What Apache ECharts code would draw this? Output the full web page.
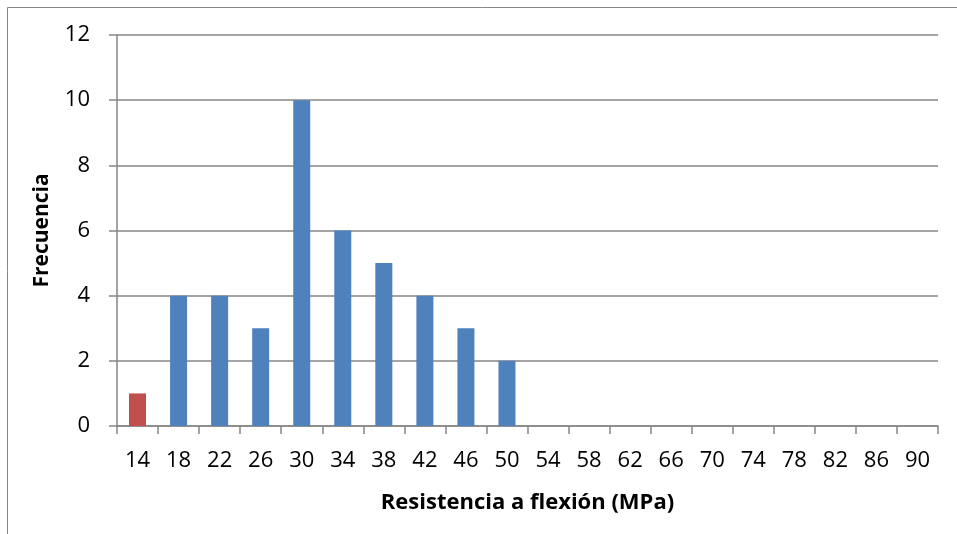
<!DOCTYPE html>
<html>
<head>
<meta charset="utf-8">
<script src="https://cdn.jsdelivr.net/npm/echarts@6/dist/echarts.min.js"></script>
<style>
  html, body { margin: 0; padding: 0; background: #fff; }
  #chart { width: 957px; height: 534px; }
</style>
</head>
<body>
<div id="chart"></div>
<script>
const chart = echarts.init(document.getElementById('chart'))

// Chart data
const categories = ['14', '18', '22', '26', '30', '34', '38', '42', '46', '50',
  '54', '58', '62', '66', '70', '74', '78', '82', '86', '90']
const frequencies = [1, 4, 4, 3, 10, 6, 5, 4, 3, 2, 0, 0, 0, 0, 0, 0, 0, 0, 0, 0]
const yTicks = [0, 2, 4, 6, 8, 10, 12]

const blue = '#4F81BD'
const red = '#C0504D'
const gray = '#868686'
const font = "'Open Sans', 'Liberation Sans', sans-serif"

const option = {
  animation: false,
  graphic: [
    {
      type: 'rect',
      shape: { x: 7.5, y: 7.5, width: 960, height: 540 },
      style: { fill: 'none', stroke: gray, lineWidth: 1 },
    },
  ],
  grid: { left: 117, right: 19, top: 35, bottom: 108 },
  xAxis: {
    type: 'category',
    data: categories,
    name: 'Resistencia a flexión (MPa)',
    nameLocation: 'middle',
    nameGap: 66,
    nameTextStyle: { fontFamily: font, fontWeight: 'bold', fontSize: 22, color: '#000' },
    axisLine: { lineStyle: { color: gray, width: 1.5 } },
    axisTick: { show: true, length: 8, lineStyle: { color: gray, width: 1.5 } },
    axisLabel: { fontFamily: font, fontSize: 22, color: '#000', margin: 24 },
  },
  yAxis: {
    type: 'value',
    min: yTicks[0],
    max: yTicks[yTicks.length - 1],
    interval: 2,
    name: 'Frecuencia',
    nameLocation: 'middle',
    nameGap: 64,
    nameTextStyle: { fontFamily: font, fontWeight: 'bold', fontSize: 21, color: '#000' },
    axisLine: { show: true, lineStyle: { color: gray, width: 1.5 } },
    axisTick: { show: true, length: 8, lineStyle: { color: gray, width: 1.5 } },
    axisLabel: { fontFamily: font, fontSize: 22, color: '#000', margin: 27 },
    splitLine: { lineStyle: { color: gray, width: 1.5 } },
  },
  series: [
    {
      type: 'bar',
      barWidth: 17,
      data: frequencies.map((v, i) => ({
        value: v,
        itemStyle: { color: i === 0 ? red : blue },
      })),
    },
  ],
}

chart.setOption(option)
</script>
</body>
</html>
